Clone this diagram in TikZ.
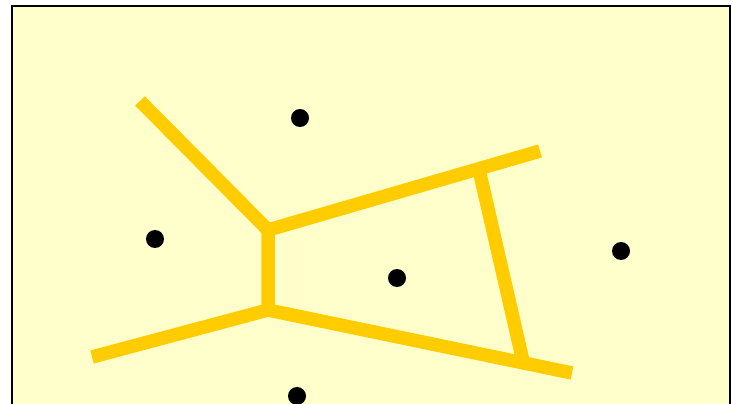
\documentclass[tikz,border=0pt]{standalone}
\usetikzlibrary{calc}

\definecolor{paper}{HTML}{FFFFCC}
\definecolor{edgegold}{HTML}{FFCC00}

\begin{document}
\begin{tikzpicture}[x=0.02cm, y=-0.02cm, thick]
  \useasboundingbox (0,0) rectangle (732,404);
  \tikzset{edge/.style={edgegold, line width=0.27cm, line cap=butt, line join=miter}}
  % frame, bottom edge runs past the page
  \draw[fill=paper, line width=0.04cm] (12,6) rectangle (730,420);

  % Voronoi vertices
  \coordinate (A) at (268,230);
  \coordinate (B) at (268,310);
  % free ends
  \coordinate (UL) at (140,101);
  \coordinate (LL) at (92,357);
  \coordinate (UR) at (540,151);
  \coordinate (LR) at (572,373);
  % C and D sit on the two long edges
  \coordinate (C) at ($(A)!0.775!(UR)$);
  \coordinate (D) at ($(B)!0.84!(LR)$);

  \draw[edge] (UL) -- (A) -- (B) -- (LL);
  \draw[edge] (A) -- (UR);
  \draw[edge] (B) -- (LR);
  \draw[edge] (C) -- (D);

  % sites
  \coordinate (P1) at (300,118);
  \coordinate (P2) at (155,239);
  \coordinate (P3) at (397,278);
  \coordinate (P4) at (621,251);
  \coordinate (P5) at (297,396);
  \foreach \p in {P1,P2,P3,P4,P5}
    \fill (\p) circle (0.18cm);
\end{tikzpicture}
\end{document}
